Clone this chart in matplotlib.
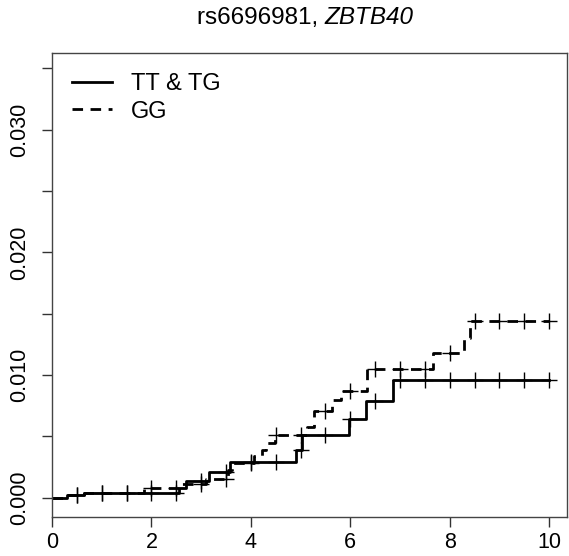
import matplotlib
matplotlib.use("Agg")
import matplotlib.pyplot as plt
import numpy as np

plt.rcParams["font.family"] = ["Liberation Sans", "DejaVu Sans"]

# step times (years) and cumulative incidence
tt_times = [0.0, 0.3, 0.65, 2.55, 2.7, 3.15, 3.58, 4.9, 5.03, 5.97, 6.32, 6.85]
tt_level = [0.0, 0.0002, 0.0004, 0.0008, 0.0014, 0.0021, 0.0029, 0.0039, 0.0051, 0.0064, 0.0079, 0.0096]

gg_times = [0.0, 0.27, 0.65, 1.85, 2.6, 3.1, 3.55, 3.62, 4.07, 4.22, 4.3, 4.49,
            5.12, 5.27, 5.63, 5.82, 6.33, 7.67, 8.28, 8.41]
gg_level = [0.0, 0.0002, 0.0004, 0.0008, 0.00115, 0.0015, 0.0023, 0.0028, 0.0034, 0.0039, 0.0045, 0.0051,
            0.0058, 0.0071, 0.0080, 0.0087, 0.0105, 0.0118, 0.0130, 0.0144]

mark_times = np.arange(0.5, 10.01, 0.5)
end_time = 10.0

x_ticks = [0, 2, 4, 6, 8, 10]
y_ticks = [0.0, 0.005, 0.010, 0.015, 0.020, 0.025, 0.030, 0.035]
y_labels = ["0.000", "", "0.010", "", "0.020", "", "0.030", ""]

title_snp = "rs6696981, "
title_gene = "ZBTB40"


def curve(times, level):
    t = np.append(times, end_time)
    v = np.append(level, level[-1])
    idx = np.searchsorted(times, mark_times, side="right") - 1
    return t, v, np.asarray(level)[idx]


fig = plt.figure(figsize=(5.69, 5.56), dpi=100)
ax = fig.add_axes([0.0914, 0.0701, 0.9051, 0.8351])

t, v, m = curve(tt_times, tt_level)
ax.step(t, v, where="post", color="black", lw=2.0, label="TT & TG")
ax.plot(mark_times, m, ls="none", marker="+", ms=11, mew=1.0, color="black")

t, v, m = curve(gg_times, gg_level)
ax.step(t, v, where="post", color="black", lw=2.0, dashes=(3.8, 2.7), label="GG")
ax.plot(mark_times, m, ls="none", marker="+", ms=11, mew=1.0, color="black")

ax.set_xlim(0, 10.36)
ax.set_ylim(-0.00157, 0.03628)
ax.set_xticks(x_ticks)
ax.set_yticks(y_ticks)
ax.set_yticklabels(y_labels, rotation=90, va="center")
ax.tick_params(axis="both", labelsize=15.5, length=7, width=1.0, color="#333333")
ax.tick_params(axis="x", pad=3.5)
ax.tick_params(axis="y", pad=9)
for s in ax.spines.values():
    s.set_color("#444444")
    s.set_linewidth(1.0)

ax.legend(loc="upper left", frameon=False, fontsize=17, handlelength=1.7,
          handletextpad=0.8, borderaxespad=0.45, labelspacing=0.25)

# title: plain SNP id followed by italic gene name, centred over the plot
fs = 17.5
t1 = fig.text(0, 0, title_snp, fontsize=fs)
t2 = fig.text(0, 0, title_gene, fontsize=fs, style="italic")
fig.canvas.draw()
r = fig.canvas.get_renderer()
w1 = t1.get_window_extent(r).width / fig.bbox.width
w2 = t2.get_window_extent(r).width / fig.bbox.width
cx = 305 / 569
x0 = cx - (w1 + w2) / 2
ty = 1 - 18 / 556
t1.set_position((x0, ty))
t1.set_va("center")
t2.set_position((x0 + w1, ty))
t2.set_va("center")

fig.savefig("out.png", dpi=100)
